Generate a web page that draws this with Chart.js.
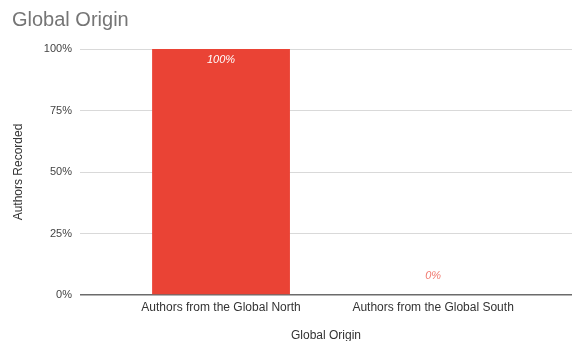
<!DOCTYPE html>
<html>
<head>
<meta charset="utf-8">
<script src="https://cdn.jsdelivr.net/npm/chart.js@4/dist/chart.umd.min.js"></script>
<style>
  html, body { margin: 0; padding: 0; background: #ffffff; }
  #wrap { width: 572px; height: 341px; }
</style>
</head>
<body>
<div id="wrap"><canvas id="c" width="572" height="341"></canvas></div>
<script>
// Share of recorded authors by global origin
const categories = ['Authors from the Global North', 'Authors from the Global South'];
const shares = [100, 0];
const yTicks = [0, 25, 50, 75, 100];

const FONT = '"Liberation Sans", Arial, sans-serif';

// Value labels: inside the top of tall bars, just above the baseline for empty ones
const valueLabels = {
  id: 'valueLabels',
  afterDatasetsDraw(chart) {
    const ctx = chart.ctx;
    const meta = chart.getDatasetMeta(0);
    const yScale = chart.scales.y;
    ctx.save();
    ctx.font = 'italic 11px ' + FONT;
    ctx.textAlign = 'center';
    ctx.textBaseline = 'middle';
    meta.data.forEach((bar, i) => {
      const v = shares[i];
      const text = v + '%';
      if (v > 10) {
        ctx.fillStyle = '#ffffff';
        ctx.fillText(text, bar.x, bar.y + 11);
      } else {
        ctx.fillStyle = '#f07a70';
        ctx.fillText(text, bar.x, yScale.getPixelForValue(v) - 19);
      }
    });
    ctx.restore();
  }
};

new Chart(document.getElementById('c'), {
  type: 'bar',
  data: {
    datasets: [{
      label: 'Authors Recorded',
      data: shares.map((v, i) => ({ x: i, y: v })),
      backgroundColor: '#ea4335',
      borderWidth: 0,
      barPercentage: 0.65,
      categoryPercentage: 1.0
    }]
  },
  options: {
    responsive: false,
    animation: false,
    layout: { padding: { left: 12, right: 0, top: 0, bottom: 0 } },
    plugins: {
      legend: { display: false },
      tooltip: { enabled: false },
      title: {
        display: true,
        text: 'Global Origin',
        align: 'start',
        color: '#757575',
        font: { family: FONT, size: 20, weight: 'normal' },
        padding: { top: 8, bottom: 17 }
      }
    },
    scales: {
      x: {
        type: 'linear',
        min: -0.665,
        max: 1.655,
        offset: false,
        afterFit(scale) { scale.height = 46; },
        afterBuildTicks(scale) {
          scale.ticks = categories.map((_, i) => ({ value: i }));
        },
        ticks: {
          includeBounds: false,
          autoSkip: false,
          maxRotation: 0,
          padding: 5,
          color: '#333333',
          font: { family: FONT, size: 12 },
          callback: (v) => categories[v] ?? ''
        },
        grid: { display: false, drawTicks: false },
        border: { display: false },
        title: {
          display: true,
          text: 'Global Origin',
          color: '#333333',
          font: { family: FONT, size: 12 },
          padding: { top: 0, bottom: -2 }
        }
      },
      y: {
        min: 0,
        max: 100,
        afterFit(scale) { scale.width = 68; },
        afterBuildTicks(scale) {
          scale.ticks = yTicks.map(v => ({ value: v }));
        },
        ticks: {
          padding: 8,
          color: '#444444',
          font: { family: FONT, size: 11 },
          callback: (v) => v + '%'
        },
        grid: {
          drawTicks: false,
          color: (c) => c.tick && c.tick.value === 0 ? '#6b6b6b' : '#d9d9d9',
          lineWidth: (c) => c.tick && c.tick.value === 0 ? 1.5 : 1
        },
        border: { display: false },
        title: {
          display: true,
          text: 'Authors Recorded',
          color: '#333333',
          font: { family: FONT, size: 12 },
          padding: { top: -1, bottom: 0 }
        }
      }
    }
  },
  plugins: [valueLabels]
});
</script>
</body>
</html>
